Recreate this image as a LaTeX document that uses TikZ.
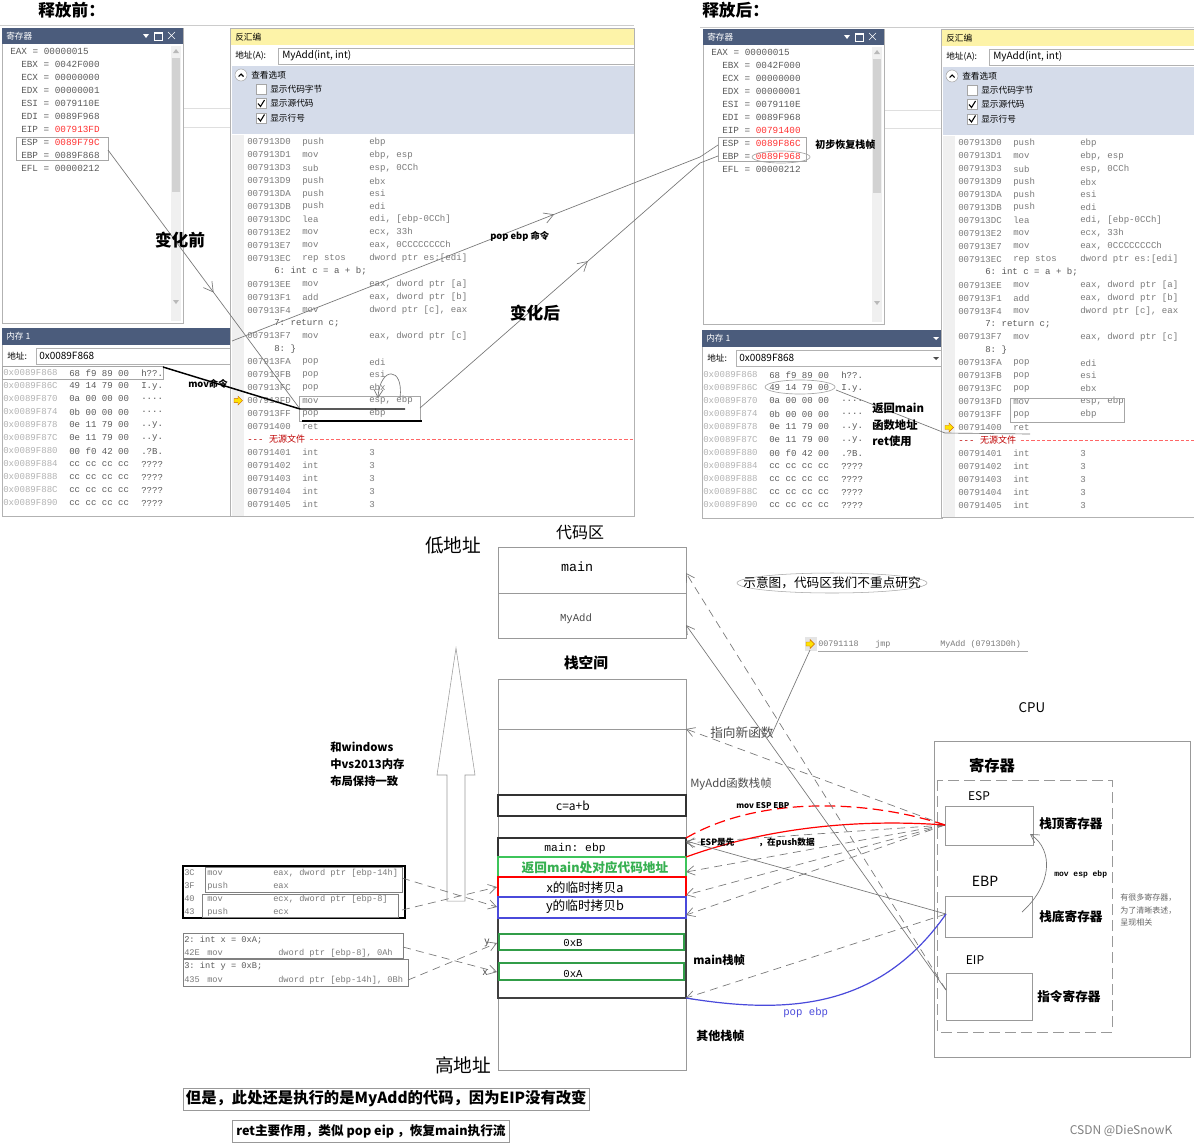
\documentclass[tikz,border=0pt]{standalone}
\usepackage{fontspec}
\setmainfont{Noto Sans CJK SC}
\setmonofont{Liberation Mono}
\usetikzlibrary{positioning,arrows.meta,decorations.markings}

\definecolor{vsbar}{HTML}{4B5C7C}
\definecolor{vsyellow}{HTML}{FDF3A8}
\definecolor{vsopt}{HTML}{D5DCEA}
\definecolor{asmgray}{HTML}{7A7A7A}
\definecolor{reggray}{HTML}{5A5A5A}
\definecolor{regred}{HTML}{FF3030}
\definecolor{rowgreen}{HTML}{3DC45A}
\definecolor{rowblue}{HTML}{4A4ADB}
\definecolor{linegray}{HTML}{777777}

\tikzset{
  panel/.style={draw=gray!60, fill=white},
  uitext/.style={font=\fontsize{6.5}{7}\selectfont, anchor=west, inner sep=0pt},
  asm/.style={font=\ttfamily\fontsize{6.8}{7}\selectfont, text=asmgray, anchor=west, inner sep=0pt},
  reg/.style={font=\ttfamily\fontsize{7}{8}\selectfont, text=reggray, anchor=west, inner sep=0pt},
  note/.style={font=\bfseries\fontsize{7}{8}\selectfont, anchor=west, inner sep=0pt},
  big/.style={font=\bfseries\fontsize{12.5}{13}\selectfont, inner sep=0pt},
  lbl/.style={inner sep=0pt},
  conn/.style={draw=linegray, line width=0.5pt},
  dconn/.style={conn, dash pattern=on 6pt off 4pt},
  tip/.style={-{Straight Barb[length=6pt,width=7pt]}},
  midtip/.style={postaction={decorate}, decoration={markings,
      mark=at position #1 with {\arrow{Straight Barb[length=7pt,width=8pt]}}}},
  row/.style={line width=1.2pt},
  hl/.style={draw=gray!70, line width=0.5pt},
}

% register window: suffix, EIP, ESP, EBP, colour of EBP
\newcommand{\regpanel}[5]{%
  \draw[panel] (2,28) rectangle (183,323);
  \fill[vsbar] (2,28) rectangle (183,44);
  \node[uitext, text=white] (regtitle#1) at (6,36) {寄存器};
  \fill[white] (143,34) -- (149,34) -- (146,38) -- cycle;
  \draw[white] (154,32) rectangle (162,40) (154,33.5) -- (162,33.5);
  \draw[white] (168,32) -- (175,39) (168,39) -- (175,32);
  \fill[gray!12] (171,46) rectangle (181,321);
  \fill[gray!35] (172,58) rectangle (180,192);
  \fill[gray!55] (173,53) -- (179,53) -- (176,49) -- cycle;
  \fill[gray!55] (173,300) -- (179,300) -- (176,304) -- cycle;
  \node[reg] (eax#1) at (10,51) {EAX = 00000015};
  \foreach \rg/\val/\col [count=\i] in {EBX/0042F000/reggray, ECX/00000000/reggray,
      EDX/00000001/reggray, ESI/0079110E/reggray, EDI/0089F968/reggray,
      EIP/#2/regred, ESP/#3/regred, EBP/#4/#5, EFL/00000212/reggray}
    \node[reg] (reg#1\i) at (21,51+13*\i) {\rg{} = \textcolor{\col}{\val}};
}

% memory window: suffix, right edge
\newcommand{\mempanel}[2]{%
  \draw[panel] (2,328) rectangle (#2,516);
  \fill[vsbar] (2,328) rectangle (#2,345);
  \node[uitext, text=white] (memtitle#1) at (6,336.5) {内存 1};
  \node[uitext] (memaddr#1) at (7,356) {地址:};
  \draw[gray!60, fill=white] (36,348) rectangle (#2,364);
  \node[uitext, font=\fontsize{7.5}{8}\selectfont] (memval#1) at (39,356) {0x0089F868};
  \foreach \ad/\by/\as [count=\i from 0] in {0x0089F868/68 f9 89 00/{h??.},
      0x0089F86C/49 14 79 00/{I.y.}, 0x0089F870/0a 00 00 00/{....},
      0x0089F874/0b 00 00 00/{....}, 0x0089F878/0e 11 79 00/{..y.},
      0x0089F87C/0e 11 79 00/{..y.}, 0x0089F880/00 f0 42 00/{.?B.},
      0x0089F884/cc cc cc cc/{????}, 0x0089F888/cc cc cc cc/{????},
      0x0089F88C/cc cc cc cc/{????}, 0x0089F890/cc cc cc cc/{????}}{
    \node[asm, text=gray!60] (ma#1\i) at (3,373+13*\i) {\ad};
    \node[asm, text=reggray] (mb#1\i) at (69,373+13*\i) {\by};
    \node[asm, text=reggray] (mc#1\i) at (141,373+13*\i) {\as};
  }
}

% disassembly window: suffix, right edge, current row
\newcommand{\disasm}[3]{%
  \draw[panel] (230,28) rectangle (#2,516);
  \fill[vsyellow] (231,29) rectangle (#2,45);
  \node[uitext] (dtitle#1) at (235,37) {反汇编};
  \node[uitext] (daddr#1) at (235,56) {地址(A):};
  \draw[gray!60, fill=white] (278,48) rectangle (#2,64);
  \node[uitext, font=\fontsize{7.5}{8}\selectfont] (dfunc#1) at (282,56) {MyAdd(int, int)};
  \fill[vsopt] (232,66) rectangle (#2,134);
  \draw[gray!70, fill=white] (241,75) circle [radius=6];
  \draw[line width=0.8pt] (238.5,76.5) -- (241,74) -- (243.5,76.5);
  \node[uitext] (dview#1) at (251,75) {查看选项};
  \foreach \t/\ck [count=\i from 0] in {显示代码字节/0, 显示源代码/1, 显示行号/1}{
    \draw[gray!70, fill=white] (256,84+14.5*\i) rectangle (266,94+14.5*\i);
    \ifnum\ck=1 \draw[line width=0.8pt] (258,89+14.5*\i) -- (260.5,92+14.5*\i) -- (264.5,85.5+14.5*\i);\fi
    \node[uitext] (dopt#1\i) at (270,89+14.5*\i) {\t};
  }
  \fill[gray!12] (232,135) rectangle (244,516);
  \foreach \i/\ad/\mn/\op in {0/007913D0/push/ebp, 1/007913D1/mov/{ebp, esp},
      2/007913D3/sub/{esp, 0CCh}, 3/007913D9/push/ebx, 4/007913DA/push/esi,
      5/007913DB/push/edi, 6/007913DC/lea/{edi, [ebp-0CCh]}, 7/007913E2/mov/{ecx, 33h},
      8/007913E7/mov/{eax, 0CCCCCCCCh}, 9/007913EC/rep stos/{dword ptr es:[edi]},
      11/007913EE/mov/{eax, dword ptr [a]}, 12/007913F1/add/{eax, dword ptr [b]},
      13/007913F4/mov/{dword ptr [c], eax}, 15/007913F7/mov/{eax, dword ptr [c]},
      17/007913FA/pop/edi, 18/007913FB/pop/esi, 19/007913FC/pop/ebx,
      20/007913FD/mov/{esp, ebp}, 21/007913FF/pop/ebp, 22/00791400/ret/{},
      24/00791401/int/3, 25/00791402/int/3, 26/00791403/int/3,
      27/00791404/int/3, 28/00791405/int/3}{
    \node[asm] (da#1\i) at (247,142+12.93*\i) {\ad};
    \node[asm] (dm#1\i) at (302,142+12.93*\i) {\mn};
    \node[asm] (do#1\i) at (369,142+12.93*\i) {\op};
  }
  \foreach \i/\src in {10/{6: int c = a + b;}, 14/{7: return c;}, 16/{8: \}}}
    \node[asm, text=black!65] (ds#1\i) at (274,142+12.93*\i) {\src};
  \node[asm, text=red!75!black] (nosrc#1) at (247,142+12.93*23) {--- {\rmfamily 无源文件}};
  \draw[red!60, dash pattern=on 2.5pt off 1.5pt] (nosrc#1.east) ++(4,0) -- (#2,142+12.93*23);
  \pgfmathsetmacro\cury{142+12.93*#3}
  \draw[orange!80!black, fill=yellow!85!orange, line width=0.3pt]
    (234,\cury-2) -- (238,\cury-2) -- (238,\cury-4.5) -- (242.5,\cury)
    -- (238,\cury+4.5) -- (238,\cury+2) -- (234,\cury+2) -- cycle;
}

\begin{document}
\begin{tikzpicture}[x=0.75pt,y=-0.75pt]
\fill[white] (0,0) rectangle (1194,1146);
\useasboundingbox (0,0) rectangle (1194,1146);

% ---------- top: before / after screenshots
\draw[gray!40] (0,25) -- (634,25) (700,27) -- (1194,27);
\draw[gray!25] (183,108) -- (230,108) (183,127) -- (230,127)
               (883,110) -- (942,110) (883,128) -- (942,128);
\node[big, anchor=west] (tbefore) at (38,10) {释放前：};
\node[big, anchor=west] (tafter) at (702,10) {释放后：};

\regpanel{B}{007913FD}{0089F79C}{0089F868}{reggray}
\mempanel{B}{232}
\disasm{B}{634}{20}
\begin{scope}[shift={(701,1)}]
  \regpanel{A}{00791400}{0089F86C}{0089F968}{regred}
\end{scope}
\begin{scope}[shift={(700,2)}]
  \mempanel{A}{242}
\end{scope}
\fill[white] (933,337) -- (939,337) -- (936,340) -- cycle;
\fill[black!70] (933,357) -- (939,357) -- (936,360) -- cycle;
\begin{scope}[shift={(711,1)}]
  \disasm{A}{483}{22}
\end{scope}

% before: what changes
\draw[hl] (16,137) rectangle (108,160);
\draw[hl] (2,366) rectangle (163,379);
\draw[hl] (299,396) rectangle (420,421);
\coordinate (hlB) at (108,150);
\coordinate (popL) at (300,409);
\coordinate (memR) at (163,367);
\draw[conn, midtip=0.55] (hlB) -- (popL);
\draw[line width=1.1pt] (memR) -- (popL) -- (405,409);
\draw[line width=1.1pt] (302,421) -- (422,421);
\draw[conn, tip] (400,398) .. controls (404,366) and (380,366) .. (378,398);
\node[big] (chgB) at (180,240) {变化前};
\node[note] (movcmd) at (188,384) {mov命令};

% after: what changes
\draw[hl] (718,137) rectangle (806,161);
\draw[hl] (781,157) ellipse [x radius=29, y radius=6];
\draw[hl] (1010,398) rectangle (1124,422);
\draw[hl] (800,387) ellipse [x radius=35, y radius=7];
\coordinate (memL) at (232,341);
\coordinate (popR) at (420,408);
\coordinate (bendA) at (700,157);
\coordinate (bendB) at (700,163);
\coordinate (hlA1) at (718,145);
\coordinate (hlA2) at (718,156);
\coordinate (retaddr) at (836,390);
\coordinate (retrow) at (945,433);
\draw[conn, midtip=0.66] (memL) -- (bendA) -- (hlA1);
\draw[conn, midtip=0.57] (popR) -- (bendB) -- (hlA2);
\draw[conn] (retaddr) -- (retrow) -- (1030,434);
\node[note] (popcmd) at (490,236) {pop ebp 命令};
\node[big] (chgA) at (535,313) {变化后};
\node[note, font=\bfseries\fontsize{7.5}{8}\selectfont] (restore) at (815,145) {初步恢复栈帧};
\node[note, font=\bfseries\fontsize{8.5}{12.4}\selectfont, align=left] (retuse) at (872,425)
  {返回main\\函数地址\\ret使用};

% ---------- bottom: code area and stack
\node[lbl, font=\fontsize{12}{13}\selectfont] (codearea) at (580,533) {代码区};
\node[lbl, font=\fontsize{14}{15}\selectfont] (lowaddr) at (453,545) {低地址};
\draw[gray!80] (498,547) rectangle (686,638) (498,593) -- (686,593);
\node[lbl, font=\ttfamily\fontsize{10}{11}\selectfont] (cmain) at (577,567) {main};
\node[lbl, font=\ttfamily\fontsize{8}{9}\selectfont, text=black!70] (cmyadd) at (576,619) {MyAdd};
\coordinate (mainR) at (686,573);
\coordinate (myaddR) at (686,625);

\node[lbl, font=\bfseries\fontsize{11}{12}\selectfont] (stackarea) at (586,663) {栈空间};
\draw[gray!80] (498,679) rectangle (686,1070) (498,729) -- (686,729);
\draw[black!75, line width=0.8pt] (498,918) -- (498,998) -- (686,998) -- (686,918);
\draw[row, black!80] (498,795) rectangle (686,816);
\draw[row, black!80] (498,838) rectangle (686,857);
\draw[row, rowgreen] (498,857) rectangle (686,877);
\draw[row, red] (498,877) rectangle (686,897);
\draw[row, rowblue] (498,897) rectangle (686,918);
\draw[row, rowgreen!80!black] (499,934) rectangle (684,950);
\draw[row, rowgreen!80!black] (499,963) rectangle (684,980);
\node[lbl, font=\fontsize{9}{10}\selectfont] (rsum) at (573,806) {c=a+b};
\node[lbl, font=\ttfamily\fontsize{8.5}{9}\selectfont] (rebp) at (575,849) {main: ebp};
\node[lbl, font=\bfseries\fontsize{9.5}{10}\selectfont, text=rowgreen!90!black] (rret) at (595,868) {返回main处对应代码地址};
\node[lbl, font=\fontsize{9.5}{10}\selectfont] (rxa) at (585,888) {x的临时拷贝a};
\node[lbl, font=\fontsize{9.5}{10}\selectfont] (ryb) at (585,907) {y的临时拷贝b};
\node[lbl, font=\ttfamily\fontsize{8}{9}\selectfont] (rvb) at (573,943) {0xB};
\node[lbl, font=\ttfamily\fontsize{8}{9}\selectfont] (rva) at (573,974) {0xA};
\node[lbl, font=\fontsize{14}{15}\selectfont] (highaddr) at (463,1065) {高地址};

% growth direction
\draw[gray!80] (447,901) -- (447,775) -- (437,775) -- (456,648) -- (475,775)
  -- (465,775) -- (465,901) -- cycle;
\node[note, font=\bfseries\fontsize{8.5}{12.7}\selectfont, align=left] (samewin) at (330,764)
  {和windows\\中vs2013内存\\布局保持一致};

% caller code
\draw[line width=1pt] (183,866) rectangle (405,918);
\draw[gray] (205,867) rectangle (402,892) (202,894) rectangle (398,917);
\draw[gray] (183,933) rectangle (403,958) (183,959) rectangle (408,986);
\foreach \y/\ad/\mn/\op [count=\i] in {873/3C/mov/{eax, dword ptr [ebp-14h]},
    886/3F/push/eax, 899/40/mov/{ecx, dword ptr [ebp-8]}, 912/43/push/ecx,
    953/42E/mov/{dword ptr [ebp-8], 0Ah}, 980/435/mov/{dword ptr [ebp-14h], 0Bh}}{
  \node[asm, font=\ttfamily\fontsize{6.5}{7}\selectfont] (ca\i) at (184,\y) {\ad};
  \node[asm, font=\ttfamily\fontsize{6.5}{7}\selectfont] (cm\i) at (207,\y) {\mn};
  \node[asm, font=\ttfamily\fontsize{6.5}{7}\selectfont] (co\i) at ({\i>4 ? 278 : 273},\y) {\op};
}
\node[asm, font=\ttfamily\fontsize{6.5}{7}\selectfont, text=black!65] (srcx) at (184,940) {2: int x = 0xA;};
\node[asm, font=\ttfamily\fontsize{6.5}{7}\selectfont, text=black!65] (srcy) at (184,966) {3: int y = 0xB;};
\coordinate (pushY) at (402,878);
\coordinate (pushX) at (402,910);
\coordinate (setX) at (403,947);
\coordinate (setY) at (408,980);
\coordinate (stXL) at (497,887);
\coordinate (stYL) at (497,907);
\coordinate (stBL) at (497,943);
\coordinate (stAL) at (497,972);
\draw[dconn, tip] (pushY) -- (stYL);
\draw[dconn, tip] (pushX) -- (stXL);
\draw[dconn, tip] (setX) -- (stAL);
\draw[dconn, tip] (setY) -- (stBL);
\node[lbl, font=\fontsize{7.5}{8}\selectfont, text=black!70] (ylab) at (487,943) {y};
\node[lbl, font=\fontsize{7.5}{8}\selectfont, text=black!70] (xlab) at (485,973) {x};

% notes right of the stack
\draw[gray!70] (832,583) ellipse [x radius=95, y radius=10];
\node[lbl, font=\fontsize{9.5}{10}\selectfont] (schem) at (832,583) {示意图，代码区我们不重点研究};
\fill[gray!20] (805,637) rectangle (817,651);
\draw[orange!80!black, fill=yellow!85!orange, line width=0.3pt]
  (806,642) -- (810,642) -- (810,639.5) -- (814.5,644) -- (810,648.5) -- (810,646) -- (806,646) -- cycle;
\node[asm, font=\ttfamily\fontsize{6.3}{7}\selectfont] (jmpad) at (818,644) {00791118};
\node[asm, font=\ttfamily\fontsize{6.3}{7}\selectfont] (jmpmn) at (875,644) {jmp};
\node[asm, font=\ttfamily\fontsize{6.3}{7}\selectfont] (jmpop) at (940,644) {MyAdd (07913D0h)};
\draw[gray!70] (818,651) -- (1028,651);
\node[lbl, anchor=west, font=\fontsize{9.5}{10}\selectfont, text=black!70] (newfn) at (710,733) {指向新函数};
\coordinate (jmpicon) at (810,650);
\coordinate (newfnR) at (771,736);
\draw[conn] (jmpicon) -- (newfnR);
\node[lbl, anchor=west, font=\fontsize{8.5}{9}\selectfont, text=black!70] (myaddfr) at (690,784) {MyAdd函数栈帧};
\node[note, font=\bfseries\fontsize{8.5}{9}\selectfont] (mainfr) at (693,960) {main栈帧};
\node[note, font=\bfseries\fontsize{9}{10}\selectfont] (otherfr) at (696,1036) {其他栈帧};

% CPU
\node[lbl, font=\fontsize{10}{11}\selectfont] (cpu) at (1032,708) {CPU};
\draw[gray!80] (934,741) rectangle (1190,1057);
\node[lbl, font=\bfseries\fontsize{11.5}{12}\selectfont] (regs) at (992,766) {寄存器};
\draw[gray!80, dash pattern=on 8pt off 4pt] (937,780) rectangle (1112,1032);
\draw[gray!80] (945,806) rectangle (1033,845);
\draw[gray!80] (945,896) rectangle (1032,937);
\draw[gray!80] (946,973) rectangle (1032,1020);
\node[lbl, font=\fontsize{9}{10}\selectfont] (espname) at (979,796) {ESP};
\node[lbl, font=\fontsize{10.5}{11}\selectfont] (ebpname) at (985,881) {EBP};
\node[lbl, font=\fontsize{9}{10}\selectfont] (eipname) at (975,960) {EIP};
\node[note, font=\bfseries\fontsize{9.5}{10}\selectfont] (esptxt) at (1039,824) {栈顶寄存器};
\node[note, font=\bfseries\fontsize{9.5}{10}\selectfont] (ebptxt) at (1039,917) {栈底寄存器};
\node[note, font=\bfseries\fontsize{9.5}{10}\selectfont] (eiptxt) at (1037,997) {指令寄存器};
\node[lbl, anchor=west, font=\fontsize{6}{9.4}\selectfont, text=black!60, align=left] (manyregs) at (1120,910)
  {有很多寄存器，\\为了清晰表述，\\呈现相关};
\draw[conn, tip] (1022,912) .. controls (1052,885) and (1054,850) .. (1030,834);
\node[note, font=\bfseries\ttfamily\fontsize{6}{7}\selectfont] (movee) at (1054,874) {mov esp ebp};

% connectors between CPU and stack
\coordinate (espL) at (945,825);
\coordinate (ebpL) at (946,914);
\coordinate (eipL) at (946,990);
\coordinate (stNew) at (686,729);
\coordinate (stEbpTop) at (686,838);
\coordinate (stEbpBot) at (686,857);
\coordinate (stEbpS) at (686,841);
\coordinate (stBot) at (686,998);
\draw[dconn, tip] (espL) -- (stNew);
\foreach \y in {843,872,895,915}
  \draw[dconn, tip] (espL) -- (686,\y);
\draw[red, line width=0.9pt, dash pattern=on 8pt off 4pt] (stEbpTop) .. controls (760,795) and (870,800) .. (espL);
\draw[red, line width=0.9pt] (stEbpBot) .. controls (760,830) and (850,818) .. (espL);
\draw[conn, tip] (ebpL) -- (stEbpS);
\draw[dconn, tip] (ebpL) -- (stBot);
\draw[rowblue, line width=0.9pt] (stBot) .. controls (790,1015) and (880,1008) .. (ebpL);
\draw[dconn, tip] (eipL) -- (mainR);
\draw[conn, tip] (eipL) -- (myaddR);
\node[note, font=\bfseries\fontsize{6}{7}\selectfont] (movEE) at (736,806) {mov ESP EBP};
\node[note, font=\bfseries\fontsize{6.5}{7}\selectfont] (espfirst) at (700,843) {ESP是先\hspace{18pt}，在push数据};
\node[lbl, anchor=west, font=\ttfamily\fontsize{8}{9}\selectfont, text=rowblue] (popebp) at (783,1013) {pop ebp};

% bottom remarks
\node[draw=gray!80, font=\bfseries\fontsize{11.5}{12}\selectfont, inner sep=2pt, anchor=west] (eipnote) at (183,1099)
  {但是，此处还是执行的是MyAdd的代码，因为EIP没有改变};
\node[draw=gray!80, font=\bfseries\fontsize{9.5}{10}\selectfont, inner sep=3pt, anchor=west] (retnote) at (232,1131)
  {ret主要作用，类似 pop eip ，恢复main执行流};
\node[lbl, font=\fontsize{9}{10}\selectfont, text=gray] (wm) at (1121,1131) {CSDN @DieSnowK};
\end{tikzpicture}
\end{document}
